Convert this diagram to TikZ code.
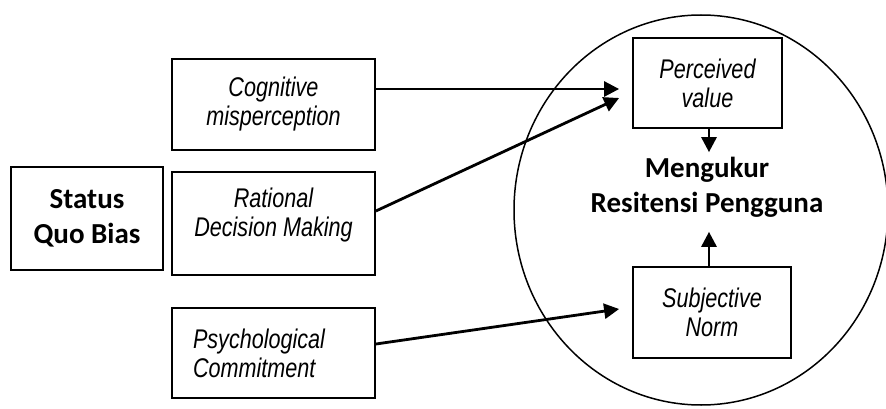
\documentclass[tikz,border=0pt]{standalone}
\usepackage{fontspec}
\newfontfamily\narrowsans[FakeStretch=0.8]{Liberation Sans}
\newfontfamily\boldsans{Carlito}
\usetikzlibrary{arrows.meta,calc}

\tikzset{
  box/.style={draw, line width=1.8pt, inner sep=0pt},
  factor/.style={box, align=center,
    font=\narrowsans\itshape\fontsize{27}{29}\selectfont},
  title/.style={align=center, font=\boldsans\bfseries\fontsize{29}{35}\selectfont},
  arr/.style={line width=2.8pt, -{Triangle[length=15pt,width=15pt]}}
}

\begin{document}
\begin{tikzpicture}[x=1pt,y=-1pt]
  \useasboundingbox (0,0) rectangle (886,409);
  \coordinate (ctr) at (701,210);
  \draw[line width=1.5pt] (ctr) ellipse [x radius=187pt, y radius=195pt];

  \node[box, title, minimum width=152pt, minimum height=103pt] (sqb) at (87,218.5) {Status\\Quo Bias};
  \node[factor, minimum width=203pt, minimum height=91pt] (cog) at (273.5,104.5) {Cognitive\\misperception};
  \node[factor, minimum width=203pt, minimum height=103pt] (rat) at (273.5,223.5) {Rational\\Decision Making\\[-7pt]~};
  \node[factor, align=left, text width=161pt, inner xsep=21pt, minimum width=203pt, minimum height=90pt] (psy) at (273.5,353) {Psychological\\Commitment};

  \node[factor, minimum width=149pt, minimum height=90pt] (pv) at (707.5,83) {Perceived\\value};
  \node[factor, minimum width=158pt, minimum height=91pt] (sn) at (712,312.5) {Subjective\\Norm};
  \node[title, inner sep=2pt] (mr) at (707,187.5) {Mengukur\\Resitensi Pengguna};

  \draw[arr] ($(cog.east)+(0,-15.5)$) -- ($(pv.west)+(-13,6)$);
  \draw[arr] ($(rat.east)+(0,-12.5)$) -- ($(pv.west)+(-13,15)$);
  \draw[arr] ($(psy.east)+(0,-9)$) -- ($(sn.west)+(-13,-3.5)$);
  \draw[arr, shorten >=3pt] ($(pv.south)+(1.5,0)$) -- ($(pv.south |- mr.north)+(1.5,0)$);
  \draw[arr, shorten >=12pt] ($(pv.south |- sn.north)+(1.5,0)$) -- ($(pv.south |- mr.south)+(1.5,0)$);
\end{tikzpicture}
\end{document}
